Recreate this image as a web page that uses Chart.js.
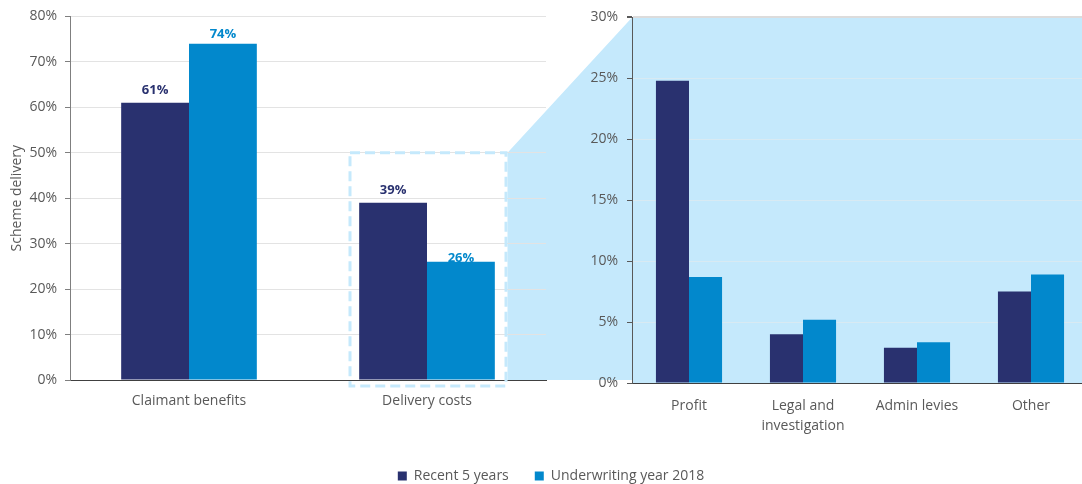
<!DOCTYPE html>
<html>
<head>
<meta charset="utf-8">
<script src="https://cdn.jsdelivr.net/npm/chart.js@4.4.1/dist/chart.umd.min.js"></script>
<style>
  html, body { margin: 0; padding: 0; background: #fff; }
  #wrap { position: relative; width: 1082px; height: 484px; overflow: hidden; }
  #wrap canvas { position: absolute; left: 0; top: 0; }
</style>
</head>
<body>
<div id="wrap">
  <!-- the breakdown plot runs a few pixels past the right edge -->
  <canvas id="detail" width="1088" height="484"></canvas>
  <canvas id="overview" width="1082" height="484"></canvas>
</div>
<script>
var seriesNames = ['Recent 5 years', 'Underwriting year 2018'];
var seriesColors = ['#29316f', '#0288cc'];

// scheme delivery split
var overviewLabels = ['Claimant benefits', 'Delivery costs'];
var overviewRecent = [61, 39];
var overview2018 = [74, 26];
var overviewMax = 80, overviewStep = 10;

// delivery costs broken down
var detailLabels = ['Profit', ['Legal and', 'investigation'], 'Admin levies', 'Other'];
var detailRecent = [24.8, 4.0, 2.9, 7.5];
var detail2018 = [8.7, 5.2, 3.35, 8.9];
var detailMax = 30, detailStep = 5;

var FONT = '"Open Sans", "Noto Sans", sans-serif';
var TEXT = '#595959';
var PANEL = '#c5e9fc';

Chart.defaults.font.family = FONT;
Chart.defaults.font.size = 14;
Chart.defaults.color = TEXT;

function pct(v) { return v + '%'; }

// gap between label baseline and bar top, per dataset / bar
var labelGap = [[9, 9], [6, 0]];

var valueLabels = {
  id: 'valueLabels',
  afterDatasetsDraw: function (chart) {
    var ctx = chart.ctx;
    ctx.save();
    ctx.font = 'bold 13px ' + FONT;
    ctx.textAlign = 'center';
    ctx.textBaseline = 'alphabetic';
    chart.data.datasets.forEach(function (ds, i) {
      ctx.fillStyle = ds.backgroundColor;
      chart.getDatasetMeta(i).data.forEach(function (bar, j) {
        ctx.fillText(pct(ds.data[j]), bar.x, bar.y - labelGap[i][j]);
      });
    });
    ctx.restore();
  }
};

// dashed box round the delivery costs bars
function frameBox(chart) {
  var x = chart.scales.x, y = chart.scales.y;
  var xc = x.getPixelForValue(1);
  return { left: xc - 77, right: xc + 79, top: y.getPixelForValue(50), bottom: y.bottom + 6 };
}

var zoomFrame = {
  id: 'zoomFrame',
  afterDatasetsDraw: function (chart) {
    var b = frameBox(chart);
    var ctx = chart.ctx;
    ctx.save();
    ctx.strokeStyle = PANEL;
    ctx.lineWidth = 3;
    ctx.setLineDash([10, 5]);
    ctx.strokeRect(b.left, b.top, b.right - b.left, b.bottom - b.top);
    ctx.restore();
  }
};

function bars(a, b) {
  return [
    { label: seriesNames[0], data: a, backgroundColor: seriesColors[0] },
    { label: seriesNames[1], data: b, backgroundColor: seriesColors[1] }
  ];
}

var overview = new Chart(document.getElementById('overview'), {
  type: 'bar',
  data: { labels: overviewLabels, datasets: bars(overviewRecent, overview2018) },
  options: {
    responsive: false,
    animation: false,
    devicePixelRatio: 1,
    layout: { padding: { top: 16, right: 536, bottom: 0, left: 0 } },
    datasets: { bar: { categoryPercentage: 0.57, barPercentage: 1 } },
    plugins: { legend: { display: false }, tooltip: { enabled: false } },
    scales: {
      x: {
        grid: { display: false },
        border: { color: '#404040' },
        ticks: { padding: 5, maxRotation: 0 },
        afterFit: function (s) { s.height = 104; }
      },
      y: {
        min: 0, max: overviewMax,
        ticks: { stepSize: overviewStep, padding: 8, callback: pct },
        grid: { color: '#e3e3e3', tickLength: 5, tickColor: '#7f7f7f' },
        border: { color: '#7f7f7f' },
        title: { display: true, text: 'Scheme delivery', padding: { top: 9, bottom: 0 } },
        afterFit: function (s) { s.width = 70; }
      }
    }
  },
  plugins: [valueLabels, zoomFrame]
});

// light blue panel behind the breakdown, joined to the dashed box
var panel = {
  id: 'panel',
  beforeDraw: function (chart) {
    var a = chart.chartArea;
    var b = frameBox(overview);
    var base = overview.scales.y.bottom;
    var ctx = chart.ctx;
    ctx.save();
    ctx.fillStyle = PANEL;
    ctx.beginPath();
    ctx.moveTo(b.right + 1.5, b.top);
    ctx.lineTo(a.left, a.top);
    ctx.lineTo(a.right, a.top);
    ctx.lineTo(a.right, a.bottom);
    ctx.lineTo(a.left, a.bottom);
    ctx.lineTo(a.left, base);
    ctx.lineTo(b.right + 1.5, base);
    ctx.closePath();
    ctx.fill();
    ctx.restore();
  }
};

var detail = new Chart(document.getElementById('detail'), {
  type: 'bar',
  data: { labels: detailLabels, datasets: bars(detailRecent, detail2018) },
  options: {
    responsive: false,
    animation: false,
    devicePixelRatio: 1,
    layout: { padding: { top: 16, right: 0, bottom: -9, left: 14 } },
    datasets: { bar: { categoryPercentage: 0.58, barPercentage: 1 } },
    plugins: {
      legend: {
        position: 'bottom',
        labels: { boxWidth: 9, boxHeight: 9, padding: 26, color: TEXT }
      },
      tooltip: { enabled: false }
    },
    scales: {
      x: {
        grid: { display: false },
        border: { color: '#404040' },
        ticks: { padding: 5, maxRotation: 0, font: { lineHeight: 1.45 } },
        afterFit: function (s) { s.height = 484 + 9 - 383 - s.chart.legend.height; }
      },
      y: {
        min: 0, max: detailMax,
        ticks: { stepSize: detailStep, padding: 9, callback: pct },
        grid: {
          color: function (c) { return c.tick && c.tick.value === detailMax ? '#dcdcdc' : '#d8eaf3'; },
          lineWidth: function (c) { return c.tick && c.tick.value === detailMax ? 2 : 1; },
          tickLength: 5,
          tickColor: '#595959'
        },
        border: { color: '#595959' },
        afterFit: function (s) { s.width = 618; }
      }
    }
  },
  plugins: [panel]
});
</script>
</body>
</html>
